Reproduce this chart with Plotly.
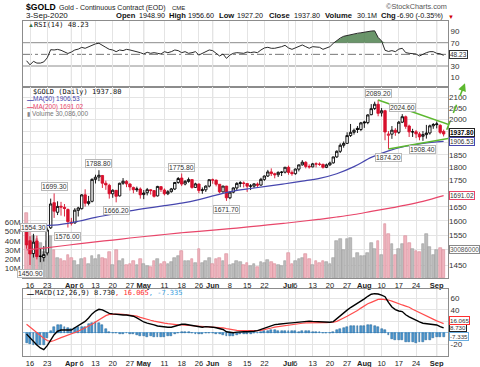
import math
import pandas as pd
import plotly.graph_objects as go

# ---------------- trading calendar ----------------
holidays = ["2020-04-10", "2020-05-25", "2020-07-03"]
dates = [d.strftime("%Y-%m-%d") for d in pd.bdate_range("2020-03-13", "2020-09-03")
         if d.strftime("%Y-%m-%d") not in holidays]
pos = {d: i for i, d in enumerate(dates)}
idx = list(range(len(dates)))

# ---------------- price data ----------------
prev_close_first = 1590.3
opens = [
    1578.0, 1531.0, 1488.0, 1530.0, 1480.0, 1475.0,
    1490.0, 1575.0, 1665.0, 1630.0, 1652.0,
    1648.0, 1640.0, 1595.0, 1592.0, 1637.0,
    1643.0, 1694.0, 1662.0, 1670.0,
    1753.0, 1762.0, 1768.0, 1738.0, 1730.0,
    1698.0, 1711.0, 1690.0, 1738.0, 1745.0,
    1735.0, 1722.0, 1713.0, 1716.0, 1695.0,
    1702.0, 1713.0, 1710.0, 1690.0, 1725.0,
    1712.0, 1698.0, 1706.0, 1716.0, 1741.0,
    1758.0, 1735.0, 1745.0, 1752.0, 1722.0,
    1735.0, 1710.0, 1713.0, 1727.0,
    1751.0, 1750.0, 1734.0, 1705.0, 1727.0,
    1683.0, 1704.0, 1720.0, 1737.0, 1739.0,
    1737.0, 1727.0, 1727.0, 1735.0, 1731.0,
    1753.0, 1766.0, 1782.0, 1775.0, 1771.0,
    1780.0, 1781.0, 1800.0, 1780.0,
    1775.0, 1793.0, 1810.0, 1820.0, 1804.0,
    1802.0, 1814.0, 1813.0, 1812.0, 1800.0,
    1810.0, 1818.0, 1842.0, 1865.0, 1890.0,
    1898.0, 1931.0, 1945.0, 1962.0, 1957.0,
    1990.0, 1987.0, 2022.0, 2050.0, 2069.0,
    2030.0, 2040.0, 1932.0, 1937.0, 1954.0,
    1945.0, 1989.0, 2013.0, 1972.0, 1947.0,
    1947.0, 1938.0, 1928.0, 1935.0, 1942.0,
    1973.0, 1978.0, 1975.0, 1948.9,
]
highs = [
    1591.0, 1546.0, 1554.3, 1548.0, 1504.0, 1513.0,
    1576.0, 1680.0, 1699.3, 1670.0, 1668.0,
    1660.0, 1644.0, 1610.0, 1645.0, 1650.0,
    1697.0, 1715.0, 1690.0, 1757.0,
    1771.0, 1788.8, 1770.0, 1748.0, 1736.0,
    1715.0, 1712.0, 1740.0, 1758.0, 1750.0,
    1738.0, 1725.0, 1725.0, 1722.0, 1712.0,
    1720.0, 1715.0, 1711.0, 1728.0, 1727.0,
    1718.0, 1712.0, 1720.0, 1743.0, 1762.0,
    1775.8, 1750.0, 1760.0, 1753.0, 1740.0,
    1737.0, 1722.0, 1730.0, 1752.0,
    1756.0, 1752.0, 1735.0, 1728.0, 1728.0,
    1706.0, 1722.0, 1742.0, 1746.0, 1745.0,
    1739.0, 1735.0, 1738.0, 1741.0, 1759.0,
    1768.0, 1790.0, 1796.0, 1779.0, 1784.0,
    1785.0, 1800.0, 1807.0, 1788.0,
    1795.0, 1811.0, 1829.0, 1825.0, 1812.0,
    1818.0, 1820.0, 1820.0, 1815.0, 1815.0,
    1823.0, 1843.0, 1869.0, 1898.0, 1906.0,
    1945.0, 1981.0, 1961.0, 1972.0, 1990.0,
    1995.0, 2024.0, 2070.0, 2081.0, 2089.2,
    2052.0, 2044.0, 1950.0, 1972.0, 1963.0,
    1994.0, 2024.6, 2018.0, 1978.0, 1960.0,
    1955.0, 1946.0, 1950.0, 1977.0, 1978.0,
    1985.0, 1992.0, 1980.0, 1956.6,
]
lows = [
    1504.0, 1450.9, 1475.0, 1469.0, 1460.0, 1462.0,
    1482.0, 1571.0, 1610.0, 1620.0, 1618.0,
    1615.0, 1576.0, 1583.0, 1590.0, 1615.0,
    1640.0, 1651.0, 1655.0, 1666.0,
    1737.0, 1746.0, 1720.0, 1713.0, 1680.0,
    1683.0, 1666.2, 1688.0, 1732.0, 1723.0,
    1710.0, 1700.0, 1705.0, 1680.0, 1678.0,
    1692.0, 1695.0, 1684.0, 1688.0, 1705.0,
    1692.0, 1693.0, 1702.0, 1712.0, 1736.0,
    1727.0, 1730.0, 1740.0, 1717.0, 1720.0,
    1700.0, 1698.0, 1705.0, 1722.0,
    1736.0, 1726.0, 1700.0, 1703.0, 1671.7,
    1678.0, 1700.0, 1712.0, 1723.0, 1722.0,
    1705.0, 1712.0, 1720.0, 1722.0, 1728.0,
    1747.0, 1762.0, 1766.0, 1757.0, 1762.0,
    1766.0, 1776.0, 1771.0, 1767.0,
    1771.0, 1784.0, 1807.0, 1796.0, 1795.0,
    1800.0, 1800.0, 1806.0, 1795.0, 1797.0,
    1806.0, 1815.0, 1838.0, 1858.0, 1880.0,
    1896.0, 1925.0, 1935.0, 1942.0, 1950.0,
    1964.0, 1980.0, 2020.0, 2043.0, 2015.0,
    2014.0, 1911.0, 1874.2, 1917.0, 1930.0,
    1938.0, 1985.0, 1960.0, 1925.0, 1925.0,
    1920.0, 1911.0, 1908.4, 1918.0, 1935.0,
    1960.0, 1962.0, 1937.0, 1927.2,
]
closes = [
    1516.7, 1486.5, 1525.8, 1477.9, 1478.6, 1484.6,
    1567.6, 1660.2, 1634.1, 1651.3, 1649.0,
    1643.6, 1596.6, 1591.4, 1637.7, 1645.7,
    1693.9, 1663.0, 1669.0, 1752.8,
    1761.2, 1768.9, 1738.1, 1731.7, 1698.1,
    1711.2, 1688.5, 1738.0, 1745.6, 1735.6,
    1723.6, 1713.3, 1716.1, 1694.2, 1700.9,
    1713.4, 1710.1, 1688.5, 1725.8, 1713.9,
    1698.1, 1705.8, 1716.4, 1740.9, 1756.3,
    1734.8, 1745.3, 1752.1, 1721.9, 1735.5,
    1710.2, 1713.0, 1727.0, 1751.7,
    1750.3, 1734.0, 1705.3, 1727.2, 1683.0,
    1704.0, 1720.2, 1737.4, 1739.8, 1737.3,
    1726.7, 1727.4, 1735.6, 1730.7, 1753.0,
    1766.0, 1782.0, 1775.3, 1771.0, 1780.3,
    1781.1, 1800.5, 1779.9, 1775.1,
    1793.5, 1809.9, 1820.6, 1803.8, 1801.9,
    1814.1, 1813.4, 1812.0, 1800.3, 1810.0,
    1817.4, 1842.0, 1865.0, 1890.0, 1897.5,
    1931.0, 1944.6, 1953.4, 1957.0, 1985.9,
    1986.3, 2021.0, 2049.3, 2069.4, 2028.0,
    2039.7, 1946.3, 1937.0, 1954.0, 1944.7,
    1988.8, 2013.1, 1970.6, 1946.8, 1947.0,
    1938.2, 1925.2, 1935.0, 1942.0, 1972.9,
    1978.6, 1981.0, 1944.7, 1937.8,
]
volume_m = [
    70, 50, 45, 42, 38, 28,
    40, 45, 30, 22, 20,
    18, 25, 22, 18, 14,
    20, 22, 15, 24,
    20, 25, 22, 20, 28,
    14, 30, 18, 20, 14,
    15, 18, 14, 20, 15,
    13, 12, 18, 20, 15,
    17, 15, 17, 22, 24,
    29, 18, 18, 20, 16,
    31, 16, 18, 22,
    15, 20, 22, 18, 26,
    14, 15, 18, 17, 14,
    16, 13, 15, 12, 17,
    16, 19, 17, 15, 14,
    13, 18, 27, 15,
    18, 20, 22, 26, 20,
    14, 18, 16, 18, 17,
    15, 22, 40, 42, 30,
    42, 43, 22, 27, 24,
    24, 27, 38, 31, 40,
    25, 58, 47, 36, 25,
    31, 36, 45, 38, 31,
    29, 28, 36, 47, 33,
    25, 30, 32, 30.086,
]
rsi = [
    39, 32, 38, 35, 35, 37,
    44, 58, 57.5, 58.5, 57,
    54, 51.5, 54, 57.5, 59,
    62, 60.4, 63, 64.5,
    68, 69, 65, 62, 58.6,
    57.5, 54.6, 57.5, 56.4, 58.6,
    57.5, 56.4, 54.6, 52.9, 50.6,
    53.5, 51.8, 52.9, 51.8, 50.6,
    54.6, 52.9, 54.6, 57.5, 56.4,
    52.9, 54.6, 51.8, 52.9, 54.6,
    48.8, 51.8, 54, 57.5,
    56.4, 51.8, 47.2, 50.6, 43.1,
    48.8, 51.8, 52.9, 52.9, 51.8,
    54, 53, 54, 52.9, 57.5,
    61, 62.1, 60.4, 60.4, 61.5,
    63.2, 65.5, 61, 58.6,
    61.5, 63.2, 66.1, 63.2, 60.4,
    63.2, 63.2, 62.1, 58.6, 60.4,
    63.2, 68.9, 73.5, 78, 81,
    82.5, 83.7, 84.8, 86.2, 87,
    88.3, 89, 90, 90.3, 79,
    73, 57, 55, 56.4, 54.6,
    59, 60.4, 53, 51.8, 51.8,
    50.6, 47.2, 50.6, 52.9, 54.6,
    54.6, 51.8, 51, 48.23,
]
macd = [
    -2, -9, -15, -21, -26, -29,
    -22, -12, -3, 3, 5,
    5, 5, 5, 9, 13,
    17, 20, 26, 33,
    38, 41, 40, 37, 34,
    33, 32, 31, 31, 31,
    30, 29, 26, 22, 19,
    17, 16, 14, 12, 11,
    10, 10, 10, 12, 14,
    15, 15, 14, 12, 11,
    10, 10, 11, 11,
    10, 9, 8, 6, 2,
    1, 0.5, 1.5, 2.2, 2.2,
    2.2, 2.2, 3, 4, 6,
    9, 11, 13, 14.5, 15,
    16, 17, 17, 17.5,
    18, 18.5, 20, 20.8, 20.5,
    20, 19.6, 19, 18, 17.8,
    18.5, 19.6, 25, 29.5, 35,
    39.5, 44, 47.5, 50.5, 55,
    59, 63.5, 67, 68, 67.5,
    65.5, 62.8, 53, 45, 40.5,
    38, 37, 31.5, 28, 24.5,
    21.3, 19, 16.8, 16, 15.6,
    14.5, 13.8, 11, 8.73,
]
signal = [
    15, 10, 5, 0, -5, -9,
    -13, -15, -13, -10, -8,
    -6, -4, -2, 0.5, 3,
    6, 9, 11, 15,
    19, 23, 27, 30, 32,
    32.5, 32.9, 32.5, 32.2, 31.6,
    31, 30, 29, 27, 25,
    23.5, 22, 20.5, 19, 18,
    17, 16, 15, 14.5, 14,
    13.8, 13.5, 13.2, 12.8, 12.3,
    12, 11.6, 11.2, 11,
    10.7, 10.3, 9.5, 8.8, 7.5,
    6.3, 5.2, 4.4, 4, 3.8,
    3.7, 3.7, 3.8, 4, 4.5,
    5.5, 7, 8.5, 10, 11,
    12, 13, 13.8, 14.5,
    15.2, 16, 16.8, 17.5, 17.8,
    18, 18.2, 18.2, 18, 17.9,
    17.8, 18.5, 20, 22.5, 26,
    29, 32, 35.5, 39, 43,
    47, 50.5, 53, 55.5, 58,
    58.5, 58.3, 57, 55, 52.5,
    50.5, 48.5, 46.5, 44.5, 41,
    38, 35.5, 32, 29, 27,
    24, 21, 18.5, 16.065,
]
ma_idx = [0, 5, 10, 15, 20, 25, 30, 35, 40, 45, 50, 55, 60, 65, 70, 75, 80, 85, 90, 95, 100, 105, 110, 115, 121]
ma50 = [1580, 1582, 1587, 1598, 1612, 1623, 1635, 1645, 1654, 1663, 1676, 1693, 1708, 1718, 1727, 1736,
        1746, 1757, 1775, 1803, 1840, 1867, 1886, 1898, 1906.53]
ma200 = [1500, 1506, 1513, 1520, 1527, 1533, 1540, 1546, 1552, 1558, 1563, 1568, 1573, 1579, 1585, 1591,
         1598, 1605, 1613, 1622, 1633, 1644, 1656, 1670, 1691.02]

swing_idx = [2, 1, 8, 12, 21, 26, 45, 58, 102, 105, 109, 115]
swing_val = [1554.3, 1450.9, 1699.3, 1576.0, 1788.8, 1666.2, 1775.8, 1671.7, 2089.2, 1874.2, 2024.6, 1908.4]
swing_is_high = [True, False, True, False, True, False, True, False, True, False, True, False]

trend_upper_idx = [102, 122.3]
trend_upper_val = [2089.2, 1979.6]
trend_lower_idx = [105, 122.3]
trend_lower_val = [1874.2, 1918.4]
arrow_idx = [121.9, 127.2]
arrow_val = [1955.6, 2168.0]

tick_dates = ["2020-03-16", "2020-03-23", "2020-04-01", "2020-04-06", "2020-04-13", "2020-04-20",
              "2020-04-27", "2020-05-01", "2020-05-11", "2020-05-18", "2020-05-26", "2020-06-01",
              "2020-06-08", "2020-06-15", "2020-06-22", "2020-07-01", "2020-07-06", "2020-07-13",
              "2020-07-20", "2020-07-27", "2020-08-03", "2020-08-10", "2020-08-17", "2020-08-24",
              "2020-09-01"]
tick_text = ["16", "23", "<b>Apr</b>", "6", "13", "20", "27", "<b>May</b>", "11", "18", "26", "<b>Jun</b>",
             "8", "15", "22", "<b>Jul</b>", "6", "13", "20", "27", "<b>Aug</b>", "10", "17", "24", "<b>Sep</b>"]
month_dates = ["2020-04-01", "2020-05-01", "2020-06-01", "2020-07-01", "2020-08-03", "2020-09-01"]
price_ticks = [1450, 1500, 1550, 1600, 1650, 1700, 1750, 1800, 1850, 1900, 1950, 2000, 2050, 2100]
price_tick_text = ["1450", "", "1550", "1600", "1650", "", "1750", "1800", "1850", "", "", "2000", "2050", "2100"]
vol_ticks = [10e6, 20e6, 30e6, 40e6, 50e6, 60e6]
vol_tick_text = ["10M", "20M", "30M", "40M", "50M", "60M"]
rsi_ticks = [10, 30, 50, 70, 90]
rsi_tick_text = ["10", "30", "", "70", "90"]
macd_ticks = [-20, 0, 20, 40, 60]
macd_tick_text = ["-20", "", "", "40", "60"]

# ---------------- geometry / style ----------------
W, H = 480, 367
ML, MR = 23, 32
PW = W - ML - MR


def fx(X):
    return (X - ML) / PW


def fy(Y):
    return 1 - Y / H


RSI_DOM = [fy(87), fy(21)]
MAIN_DOM = [fy(278), fy(87)]
MACD_DOM = [fy(356), fy(289)]
XR = [-1.03, 122.27]
RSI_R = [-6.05, 107.25]
PR = [math.log10(1409.8), math.log10(2149.6)]
VOL_R = [0, 205e6]
MACD_R = [-39.9, 76.1]

SANS = "Liberation Sans, Arial, sans-serif"
MONO = "DejaVu Sans Mono, monospace"
RED = "#d8102c"
MA50_C = "#4646ae"
MA200_C = "#e8466a"
GREEN = "#5cb82e"
GRID = "#e4e4e4"
BORDER = "#8c8c8c"

n = len(idx)
up = [closes[i] >= (closes[i - 1] if i else prev_close_first) for i in idx]

fig = go.Figure()

# volume (base of main panel)
fig.add_trace(go.Bar(
    x=idx, y=[v * 1e6 for v in volume_m], width=0.78,
    marker=dict(color=["#bcbcbc" if u else "#f0b4be" for u in up],
                line=dict(color=["#9c9c9c" if u else "#d98c99" for u in up], width=0.6)),
    xaxis="x2", yaxis="y2", hoverinfo="skip"))

# moving averages
fig.add_trace(go.Scatter(x=ma_idx, y=ma200, mode="lines", line=dict(color=MA200_C, width=1.2, shape="spline"),
                         xaxis="x2", yaxis="y3", hoverinfo="skip"))
fig.add_trace(go.Scatter(x=ma_idx, y=ma50, mode="lines", line=dict(color=MA50_C, width=1.2, shape="spline"),
                         xaxis="x2", yaxis="y3", hoverinfo="skip"))

# candles
for col, want in (("#000000", True), (RED, False)):
    sel = [i for i in idx if up[i] == want]
    fig.add_trace(go.Candlestick(
        x=sel, open=[opens[i] for i in sel], high=[highs[i] for i in sel],
        low=[lows[i] for i in sel], close=[closes[i] for i in sel],
        increasing=dict(line=dict(color=col, width=0.9), fillcolor="white"),
        decreasing=dict(line=dict(color=col, width=0.9), fillcolor=col),
        whiskerwidth=0, xaxis="x2", yaxis="y3", hoverinfo="skip"))

# trend lines
fig.add_trace(go.Scatter(x=trend_upper_idx, y=trend_upper_val, mode="lines", line=dict(color=GREEN, width=1.6),
                         xaxis="x2", yaxis="y3", hoverinfo="skip"))
fig.add_trace(go.Scatter(x=trend_lower_idx, y=trend_lower_val, mode="lines", line=dict(color=GREEN, width=1.6),
                         xaxis="x2", yaxis="y3", hoverinfo="skip"))

# RSI
fig.add_trace(go.Scatter(x=idx, y=[70] * n, mode="lines", line=dict(width=0), xaxis="x", yaxis="y",
                         hoverinfo="skip"))
fig.add_trace(go.Scatter(x=idx, y=[max(v, 70) for v in rsi], mode="lines", line=dict(width=0),
                         fill="tonexty", fillcolor="rgba(80,130,80,0.85)", xaxis="x", yaxis="y",
                         hoverinfo="skip"))
fig.add_trace(go.Scatter(x=idx, y=rsi, mode="lines", line=dict(color="#2a2a2a", width=1), xaxis="x", yaxis="y",
                         hoverinfo="skip"))

# MACD
hist = [m - s for m, s in zip(macd, signal)]
fig.add_trace(go.Bar(x=idx, y=hist, width=0.55,
                     marker=dict(color="#4a98d4", line=dict(color="#1f5c8c", width=0.5)),
                     xaxis="x3", yaxis="y4", hoverinfo="skip"))
fig.add_trace(go.Scatter(x=idx, y=signal, mode="lines", line=dict(color="#ff4d4d", width=1.2),
                         xaxis="x3", yaxis="y4", hoverinfo="skip"))
fig.add_trace(go.Scatter(x=idx, y=macd, mode="lines", line=dict(color="#000000", width=1.4),
                         xaxis="x3", yaxis="y4", hoverinfo="skip"))

tickpos = [pos[d] for d in tick_dates]
month_pos = [pos[d] for d in month_dates]

xcommon = dict(range=XR, tickmode="array", tickvals=tickpos, ticktext=tick_text, showgrid=True,
               gridcolor=GRID, gridwidth=1, showline=True, linecolor=BORDER, linewidth=1, mirror=True,
               ticks="", zeroline=False, tickfont=dict(family=SANS, size=7.5, color="#222"),
               tickangle=0, automargin=False,
               rangeslider=dict(visible=False), fixedrange=True)
ycommon = dict(ticks="", tickfont=dict(family=SANS, size=8, color="#333"), fixedrange=True, zeroline=False,
               automargin=False, tickangle=0)

layout = dict(
    width=W, height=H, margin=dict(l=ML, r=MR, t=0, b=0, autoexpand=False),
    paper_bgcolor="white", plot_bgcolor="white",
    showlegend=False, hovermode=False, boxgap=0.3, boxgroupgap=0, bargap=0,
    xaxis=dict(xcommon, anchor="y", showticklabels=False),
    xaxis2=dict(xcommon, anchor="y2", showticklabels=True),
    xaxis3=dict(xcommon, anchor="y4", showticklabels=True),
    yaxis=dict(ycommon, domain=RSI_DOM, range=RSI_R, side="right", anchor="x", tickvals=rsi_ticks,
               ticktext=rsi_tick_text, showgrid=False, showline=True, linecolor=BORDER, mirror=True),
    yaxis2=dict(ycommon, domain=MAIN_DOM, range=VOL_R, side="left", anchor="x2", tickvals=vol_ticks,
                ticktext=vol_tick_text, showgrid=False, showline=True, linecolor=BORDER, mirror=True),
    yaxis3=dict(ycommon, overlaying="y2", side="right", anchor="x2", type="log", range=PR,
                tickvals=price_ticks, ticktext=price_tick_text, showgrid=True, gridcolor=GRID, showline=False),
    yaxis4=dict(ycommon, domain=MACD_DOM, range=MACD_R, side="right", anchor="x3", tickvals=macd_ticks,
                ticktext=macd_tick_text, showgrid=True, gridcolor=GRID, showline=True, linecolor=BORDER,
                mirror=True, zeroline=True, zerolinecolor="#8ec3ea", zerolinewidth=1),
)
fig.update_layout(**layout)

shapes = []
for yv, col, dash in ((70, "#8c8c8c", "solid"), (30, "#8c8c8c", "solid"), (50, "#777777", "dashdot")):
    shapes.append(dict(type="line", xref="x domain", x0=0, x1=1, yref="y", y0=yv, y1=yv,
                       line=dict(color=col, width=1, dash=dash), layer="below"))
for m in month_pos:
    for xr_, yr_ in (("x", "y domain"), ("x2", "y2 domain"), ("x3", "y4 domain")):
        shapes.append(dict(type="line", xref=xr_, x0=m, x1=m, yref=yr_, y0=0, y1=1,
                           line=dict(color="#c4c4c4", width=1), layer="below"))


def dpx(i):
    return (i - XR[0]) / (XR[1] - XR[0])


def dpy(p):
    return MAIN_DOM[0] + (math.log10(p) - PR[0]) / (PR[1] - PR[0]) * (MAIN_DOM[1] - MAIN_DOM[0])


ax0, ay0 = dpx(arrow_idx[0]), dpy(arrow_val[0])
ax1, ay1 = dpx(arrow_idx[1]), dpy(arrow_val[1])
shapes.append(dict(type="line", xref="paper", yref="paper", x0=ax0, y0=ay0, x1=ax1, y1=ay1,
                   line=dict(color=GREEN, width=1.6, dash="dash")))
fig.update_layout(shapes=shapes)

ann = []


def txt(X, Y, s, size=8, color="#111", family=SANS, anchor="left"):
    ann.append(dict(xref="paper", yref="paper", x=fx(X), y=fy(Y), text=s, showarrow=False,
                    xanchor=anchor, yanchor="middle", font=dict(family=family, size=size, color=color)))


# header
txt(24, 7, "<b>$GOLD</b>", size=8.6, color="#000")
txt(57, 7.5, "Gold - Continuous Contract (EOD)", size=7, color="#222")
txt(170, 8, "CME", size=6, color="#222")
txt(449, 7, "©StockCharts.com", size=7.3, color="#555", anchor="right")
txt(24, 16, "3-Sep-2020", size=8, color="#111")
chg = closes[-1] - closes[-2]
pct = chg / closes[-2] * 100
header_items = [("<b>Open</b>", 114), (f"{opens[-1]:.2f}", 137), ("<b>High</b>", 167), (f"{highs[-1]:.2f}", 186),
                ("<b>Low</b>", 217), (f"{lows[-1]:.2f}", 235), ("<b>Close</b>", 267), (f"{closes[-1]:.2f}", 292),
                ("<b>Volume</b>", 323), (f"{volume_m[-1]:.1f}M", 355), ("<b>Chg</b>", 379),
                (f"{chg:.2f} ({pct:.2f}%)", 395)]
for s, X in header_items:
    txt(X, 16, s, size=7.6 if s.startswith("<b>") else 7.2, color="#111")
txt(446, 16.5, "▼", size=6, color="#d00000")

# panel labels
txt(26, 25.5, "▲", size=6, color="#3b6e3b")
txt(32, 25.5, f"RSI(14) {rsi[-1]:.2f}", size=7, color="#111", family=MONO)
txt(31, 92, f"$GOLD (Daily) {closes[-1]:.2f}", size=7, color="#111", family=MONO)
txt(25, 99.5, "<b>—</b>", size=6.5, color=MA50_C)
txt(31, 99.5, f"MA(50) {ma50[-1]:.2f}", size=6.5, color=MA50_C)
txt(25, 106.5, "<b>—</b>", size=6.5, color=MA200_C)
txt(31, 106.5, f"MA(200) {ma200[-1]:.2f}", size=6.5, color=MA200_C)
txt(25, 114, "▮", size=6, color="#888")
txt(29.5, 114, f"Volume {int(round(volume_m[-1] * 1e6)):,}", size=6.5, color="#777")
txt(25, 293, "<b>—</b>", size=7, color="#000")
txt(33, 293, f"MACD(12,26,9) {macd[-1]:.3f}<span style='color:#ff3030'>, {signal[-1]:.3f}</span>"
             f"<span style='color:#3aa0e0'>, {macd[-1] - signal[-1]:.3f}</span>", size=7, color="#111",
    family=MONO)

# swing labels
for i, v, hi in zip(swing_idx, swing_val, swing_is_high):
    ann.append(dict(xref="x2", yref="y3", x=i, y=math.log10(v), text=f"{v:.2f}", showarrow=False,
                    xanchor="center", yanchor="bottom" if hi else "top", yshift=2 if hi else -4,
                    font=dict(family=SANS, size=6.8, color="#333"), bgcolor="rgba(255,255,255,0.92)",
                    bordercolor="#b8b8b8", borderwidth=1, borderpad=0))


def vbox(yref, y, s, col, bold=False, textcol=None, shift=0.0, size=6.5):
    ann.append(dict(xref="paper", yref=yref, x=1, y=y, text=f"<b>{s}</b>" if bold else s, showarrow=False,
                    xanchor="left", yanchor="middle", xshift=1, yshift=shift,
                    font=dict(family=SANS, size=size, color=textcol or col), bgcolor="white",
                    bordercolor=col, borderwidth=1, borderpad=0))


vbox("y", rsi[-1], f"{rsi[-1]:.2f}", "#333", shift=1)
vbox("y2", volume_m[-1] * 1e6, f"{int(round(volume_m[-1] * 1e6))}", "#888", textcol="#555")
vbox("y3", math.log10(ma200[-1]), f"{ma200[-1]:.2f}", MA200_C, textcol="#333")
vbox("y3", math.log10(ma50[-1]), f"{ma50[-1]:.2f}", MA50_C, textcol="#333", shift=-0.5)
vbox("y3", math.log10(closes[-1]), f"{closes[-1]:.2f}", "#222", bold=True, textcol="#000", shift=1)
vbox("y4", macd[-1] - signal[-1], f"{macd[-1] - signal[-1]:.3f}", "#6aaee0", textcol="#333", shift=0.5,
     size=6.2)
vbox("y4", macd[-1], f"{macd[-1]:.3f}", "#222", textcol="#333", shift=0, size=6.2)
vbox("y4", signal[-1], f"{signal[-1]:.3f}", "#ff3030", textcol="#333", shift=3, size=6.2)

# arrow head of the dashed projection
ann.append(dict(xref="paper", yref="paper", x=ax1, y=ay1, text="", showarrow=True, arrowhead=2,
                arrowsize=1, arrowwidth=1.6, arrowcolor=GREEN, ax=-3.5, ay=9, axref="pixel", ayref="pixel"))

fig.update_layout(annotations=ann)
fig.write_html("out.html", include_plotlyjs=True, config={"displayModeBar": False},
               post_script="document.body.style.margin='0px';document.body.style.padding='0px';")
